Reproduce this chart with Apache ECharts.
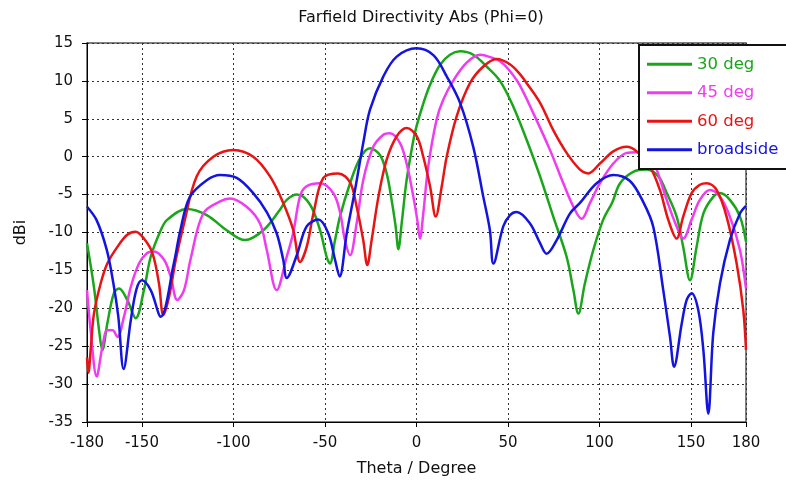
<!DOCTYPE html>
<html>
<head>
<meta charset="utf-8">
<script src="https://cdn.jsdelivr.net/npm/echarts@6/dist/echarts.min.js"></script>
<style>html,body{margin:0;padding:0;background:#fff}#c{width:786px;height:489px}</style>
</head>
<body>
<div id="c"></div>
<script>
// ---- data ----
const seriesNames = ['30 deg', '45 deg', '60 deg', 'broadside'];
const xTicks = [-180, -150, -100, -50, 0, 50, 100, 150, 180];

const theta30 = [-180, -176.2, -173.4, -171.6, -168.9, -165.3, -162.5, -158, -153.4, -148.9, -145.2, -139.7, -136.1, -125.5, -114.6, -103.7, -93.7, -83.7, -74.6, -70.9, -65.4, -58.2, -52.7, -49.1, -47.3, -44.5, -41.8, -36.3, -30.8, -25.4, -19.9, -16.3, -13.6, -11.4, -9.9, -8.1, -5.4, -1.7, 0, 3.7, 7.4, 12.8, 18.3, 23.8, 31, 38.3, 45.6, 52.9, 60.2, 67.5, 74.7, 82, 85.7, 88.4, 92, 96.6, 102, 107, 111.2, 118.4, 125.7, 132.1, 136.7, 142.1, 145.7, 149.4, 153, 156.7, 162.1, 165.8, 171.2, 176.7, 180];
const db30 = [-11.4, -17.2, -22.9, -25.5, -22, -18, -17.4, -18.9, -21.3, -17.6, -13.2, -9.7, -8.3, -6.9, -7.7, -9.7, -11, -9.7, -7, -5.7, -5, -6.3, -9.7, -13.2, -14.1, -11, -7.9, -3.5, -0.2, 1.1, 0.2, -2.2, -5.7, -9.2, -12.2, -8.8, -3.1, 2.2, 4, 7, 9.5, 12.1, 13.45, 13.9, 13.45, 11.9, 10, 6.6, 2.2, -2.6, -7.9, -13.2, -17.6, -20.7, -16.7, -12.3, -8.3, -6, -3.5, -2, -1.7, -2.6, -4.8, -7.9, -11.9, -16.3, -11.9, -7.5, -5.3, -4.8, -5.7, -7.9, -11.2];

const theta45 = [-180, -178, -174.7, -171.6, -168.9, -166, -163.4, -159.8, -156.1, -151.6, -147.1, -143.4, -137.9, -134.3, -130.7, -127, -123.4, -116.5, -107.3, -101.9, -92.8, -85.5, -81.8, -76.4, -70.9, -67.3, -63.6, -60, -52.7, -45.5, -41.8, -39.1, -36.3, -32.7, -29.1, -23.6, -18.1, -14.5, -9, -5.4, -1.7, 0.4, 1.9, 3.7, 6.4, 11, 14.6, 20, 27.4, 34.7, 41.9, 45.6, 50, 56, 63.8, 72.9, 80.2, 85.7, 90.2, 94.8, 100.2, 107.5, 114.8, 120.3, 127.5, 131.2, 136.7, 142.1, 145.7, 150.3, 154.8, 160.3, 165.8, 171.2, 176.7, 180];
const db45 = [-17.6, -22.9, -29, -25.1, -22.9, -22.9, -23.8, -21.1, -17.2, -14.1, -12.7, -12.5, -13.6, -15.8, -18.9, -17.6, -13.5, -7.5, -5.9, -5.5, -6.6, -8.8, -12.3, -17.6, -13.2, -10, -5.2, -3.9, -3.5, -4.8, -7.3, -11, -13, -8.8, -3.1, 1.3, 2.9, 3.1, 1.8, -0.9, -5.3, -8.3, -10.8, -7.5, -1.3, 4.9, 7.5, 10, 12.4, 13.45, 13, 12.6, 11.6, 9.6, 5.75, 0.9, -3.5, -6.6, -8.2, -6.1, -3.5, -0.9, 0.5, 0.6, 0, -1.7, -5.7, -9.2, -10.8, -8.3, -5.7, -4.4, -5.3, -7.9, -12.3, -17.4];

const theta60 = [-180, -179.2, -178, -176.2, -172.5, -168.9, -163.4, -158, -153.4, -148.9, -144.3, -140.7, -138.3, -135.2, -131.5, -127, -120.1, -111, -100.1, -89.2, -80, -72.8, -67.3, -63.6, -60, -56.3, -50.9, -42.7, -36.3, -32.7, -29.1, -26.9, -24.5, -20.8, -16.3, -10.8, -5.4, 0.1, 3.7, 7.4, 10.5, 13.8, 16.5, 21.9, 29.2, 36.5, 43.8, 51, 56.5, 60.2, 67.5, 74.7, 82, 89.3, 93.8, 100.2, 107.5, 114.8, 120.3, 127.5, 133, 137.5, 142.1, 145.7, 150.3, 154.8, 158.5, 164, 169.4, 174.9, 178.5, 180];
const db60 = [-26.5, -28.5, -25.5, -20.7, -16.7, -14.1, -11.9, -10.3, -9.9, -10.8, -12.7, -16.7, -20.9, -18.5, -13.6, -8.8, -2.6, 0, 0.9, 0, -2.6, -6.1, -9.7, -13.9, -11.9, -7.5, -2.8, -2.2, -3.4, -6.6, -11, -14.3, -11, -5.3, -0.4, 2.7, 3.8, 2.7, 0, -3.9, -7.9, -3.9, 0, 5.3, 9.7, 11.9, 12.9, 12.2, 10.9, 9.7, 7.1, 3.5, 0.5, -1.7, -2.2, -0.9, 0.7, 1.3, 0.7, -1.3, -4.4, -8.3, -10.8, -7.9, -4.8, -3.7, -3.5, -4.4, -7.9, -14.1, -20.2, -25.5];

const thetaBs = [-180, -174.7, -169.2, -165.6, -162.9, -160, -156.1, -153, -150, -145.2, -139.7, -132.5, -129, -123.8, -114.6, -107.3, -98.2, -89.2, -81.8, -76.4, -72.8, -70.9, -65.4, -60, -53.6, -48.2, -44.5, -42, -38.1, -33.6, -29.1, -25.4, -18.1, -10.8, 0, 9.2, 16.5, 23.8, 31, 36.5, 40.1, 42, 47.4, 51.1, 54.7, 62, 67.5, 71.1, 76.6, 83.8, 89.3, 98.4, 107.5, 116.6, 123.9, 129.4, 134.8, 138.5, 140.7, 144.9, 147.6, 150.3, 153.9, 156.7, 159.4, 162.1, 165.8, 171.2, 176.7, 180];
const dbBs = [-6.6, -8.4, -12.3, -16.7, -21.1, -28, -21.6, -17.5, -16.3, -17.6, -21.1, -14, -9.7, -5.3, -3.1, -2.4, -2.8, -4.8, -7.3, -10.1, -13.6, -16, -13, -9.2, -8.3, -10.1, -13.6, -15.8, -10.1, -4.4, 1.8, 6.2, 10.6, 13.2, 14.3, 13.4, 10.6, 7.1, 1.3, -5.3, -9.7, -14.1, -9.2, -7.7, -7.3, -8.8, -11.4, -12.8, -11, -7.5, -6.1, -3.5, -2.4, -3.2, -6, -9.3, -17.6, -23.8, -27.7, -22, -18.9, -18, -20.2, -25.5, -33.9, -23.3, -16.7, -11, -7.5, -6.5];

const colors = ['#1aa61a', '#f03cf0', '#e81414', '#1414e0'];

// ---- chart ----
const zip = (t, v) => t.map((x, i) => [x, v[i]]);
const allData = [zip(theta30, db30), zip(theta45, db45), zip(theta60, db60), zip(thetaBs, dbBs)];
const font = 'DejaVu Sans';

const chart = echarts.init(document.getElementById('c'), null, {renderer: 'canvas'});
chart.setOption({
  animation: false,
  backgroundColor: '#fff',
  title: {
    text: 'Farfield Directivity Abs (Phi=0)',
    left: 416, top: 5, textAlign: 'center',
    textStyle: {fontFamily: font, fontSize: 16, fontWeight: 'normal', color: '#111'}
  },
  grid: {left: 87, right: 40, top: 43, bottom: 67, show: true, borderColor: '#555', borderWidth: 1.5, backgroundColor: 'transparent'},
  legend: {
    left: 639, top: 45, orient: 'vertical',
    backgroundColor: '#fff', borderColor: '#111', borderWidth: 2,
    padding: [10, 30, 10, 8],
    itemWidth: 45, itemHeight: 3, itemGap: 10, icon: 'rect',
    textStyle: {fontFamily: font, fontSize: 16.5, lineHeight: 18.5},
    data: seriesNames.map((n, i) => ({name: n, textStyle: {color: colors[i]}}))
  },
  xAxis: {
    type: 'value', min: -180, max: 180, interval: 10,
    name: 'Theta / Degree', nameLocation: 'middle', nameGap: 39,
    nameTextStyle: {fontFamily: font, fontSize: 16, color: '#111'},
    axisLine: {onZero: false, lineStyle: {color: '#000', width: 1}},
    axisTick: {show: true, length: 5, customValues: xTicks, lineStyle: {color: '#000'}},
    axisLabel: {customValues: xTicks, margin: 14, fontFamily: font, fontSize: 15, color: '#111'},
    splitLine: {show: true, lineStyle: {color: '#333', type: [2, 3], width: 1}}
  },
  yAxis: {
    type: 'value', min: -35, max: 15, interval: 5,
    name: 'dBi', nameLocation: 'middle', nameGap: 58, nameRotate: 90,
    nameTextStyle: {fontFamily: font, fontSize: 16, color: '#111'},
    axisLine: {show: true, onZero: false, lineStyle: {color: '#000', width: 1}},
    axisTick: {show: true, length: 5, lineStyle: {color: '#000'}},
    axisLabel: {margin: 14, fontFamily: font, fontSize: 15, color: '#111'},
    splitLine: {show: true, lineStyle: {color: '#333', type: [2, 3], width: 1}}
  },
  series: allData.map((d, i) => ({
    name: seriesNames[i], type: 'line', data: d,
    showSymbol: false, smooth: 0.35,
    lineStyle: {color: colors[i], width: 2.5},
    itemStyle: {color: colors[i]}
  }))
});
</script>
</body>
</html>
